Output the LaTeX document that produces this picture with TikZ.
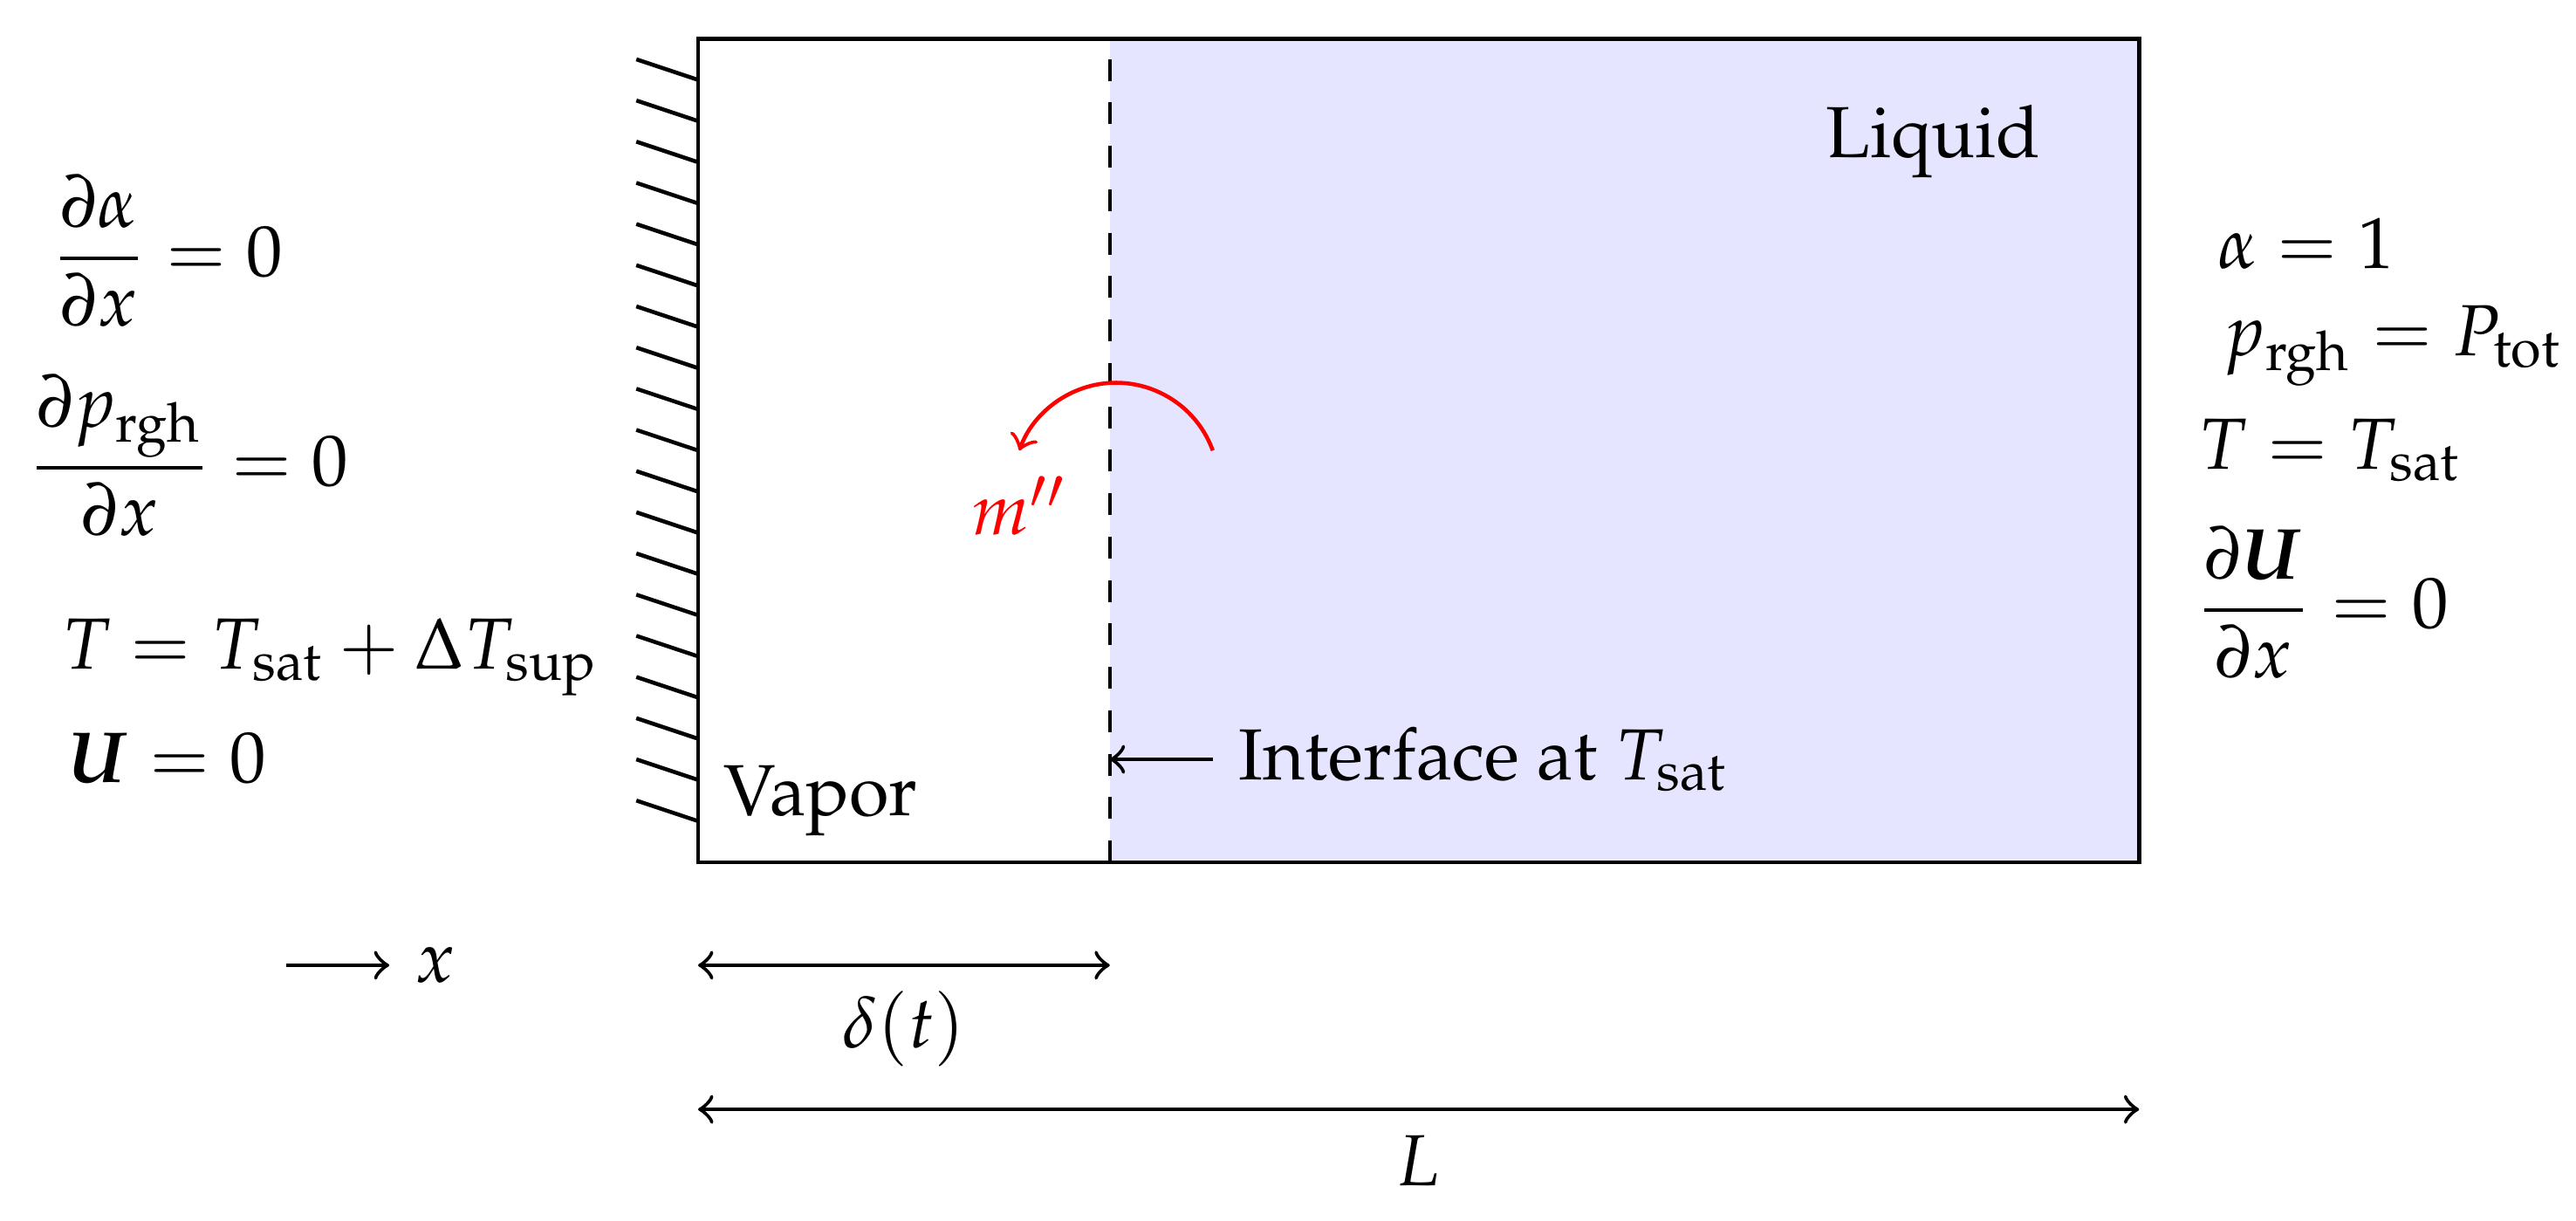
\documentclass[tikz,border=0pt]{standalone}
\usepackage[T1]{fontenc}
\usepackage{mathpazo}
\usepackage{amsmath}
\tikzset{
  bc/.style={anchor=base west, inner sep=0pt},
  wall/.style={line width=0.55pt},
}
\begin{document}
\begin{tikzpicture}[line width=0.55pt]
\useasboundingbox (-3.391,-1.738) rectangle (9.122,4.188);
% liquid region
\fill[blue!10] (2,0) rectangle (7,4);
\draw (0,0) rectangle (7,4);
\draw[dashed] (2,0) -- (2,4);
% wall hatching
\foreach \i in {1,...,19} \draw[wall] (0,0.2*\i) -- ++(-0.3,0.1);
% phase labels
\node[above right] (vapor) at (0,0) {Vapor};
\node (liquid) at (6,3.5) {Liquid};
% mass flux
\coordinate (arcstart) at (2.5,2);
\draw[red,->] (arcstart) arc[start angle=20,end angle=160,radius=0.5] node[below] (mdot) {$m''$};
% interface label
\node[right] (iface) at (2.5,0.5) {Interface at $T_\text{sat}$};
\coordinate (ifc) at (2,0.5);
\draw[->] (iface.west) -- (ifc);
% dimensions
\coordinate (d0) at (0,-0.5);
\coordinate (d1) at (2,-0.5);
\draw[<->] (d0) -- node[below] (delta) {$\delta(t)$} (d1);
\coordinate (l0) at (0,-1.2);
\coordinate (l1) at (7,-1.2);
\draw[<->] (l0) -- node[below] (Llab) {$L$} (l1);
\coordinate (xa) at (-2,-0.5);
\node[right] (xlab) at (-1.5,-0.5) {$x$};
\draw[->] (xa) -- (xlab.west);
% left boundary conditions
\node[bc] (bl1) at (-3.149,2.845) {$\dfrac{\partial\alpha}{\partial x}=0$};
\node[bc] (bl2) at (-3.264,1.828) {$\dfrac{\partial p_\text{rgh}}{\partial x}=0$};
\node[bc] (bl3) at (-3.10,0.937) {$T=T_\text{sat}+\Delta T_\text{sup}$};
\node[bc] (bl4) at (-3.07,0.386) {$\boldsymbol{U}=0$};
% right boundary conditions
\node[bc] (br1) at (7.37,2.883) {$\alpha=1$};
\node[bc] (br2) at (7.40,2.459) {$p_\text{rgh}=P_\text{tot}$};
\node[bc] (br3) at (7.28,1.908) {$T=T_\text{sat}$};
\node[bc] (br4) at (7.266,1.137) {$\dfrac{\partial\boldsymbol{U}}{\partial x}=0$};
\end{tikzpicture}
\end{document}
